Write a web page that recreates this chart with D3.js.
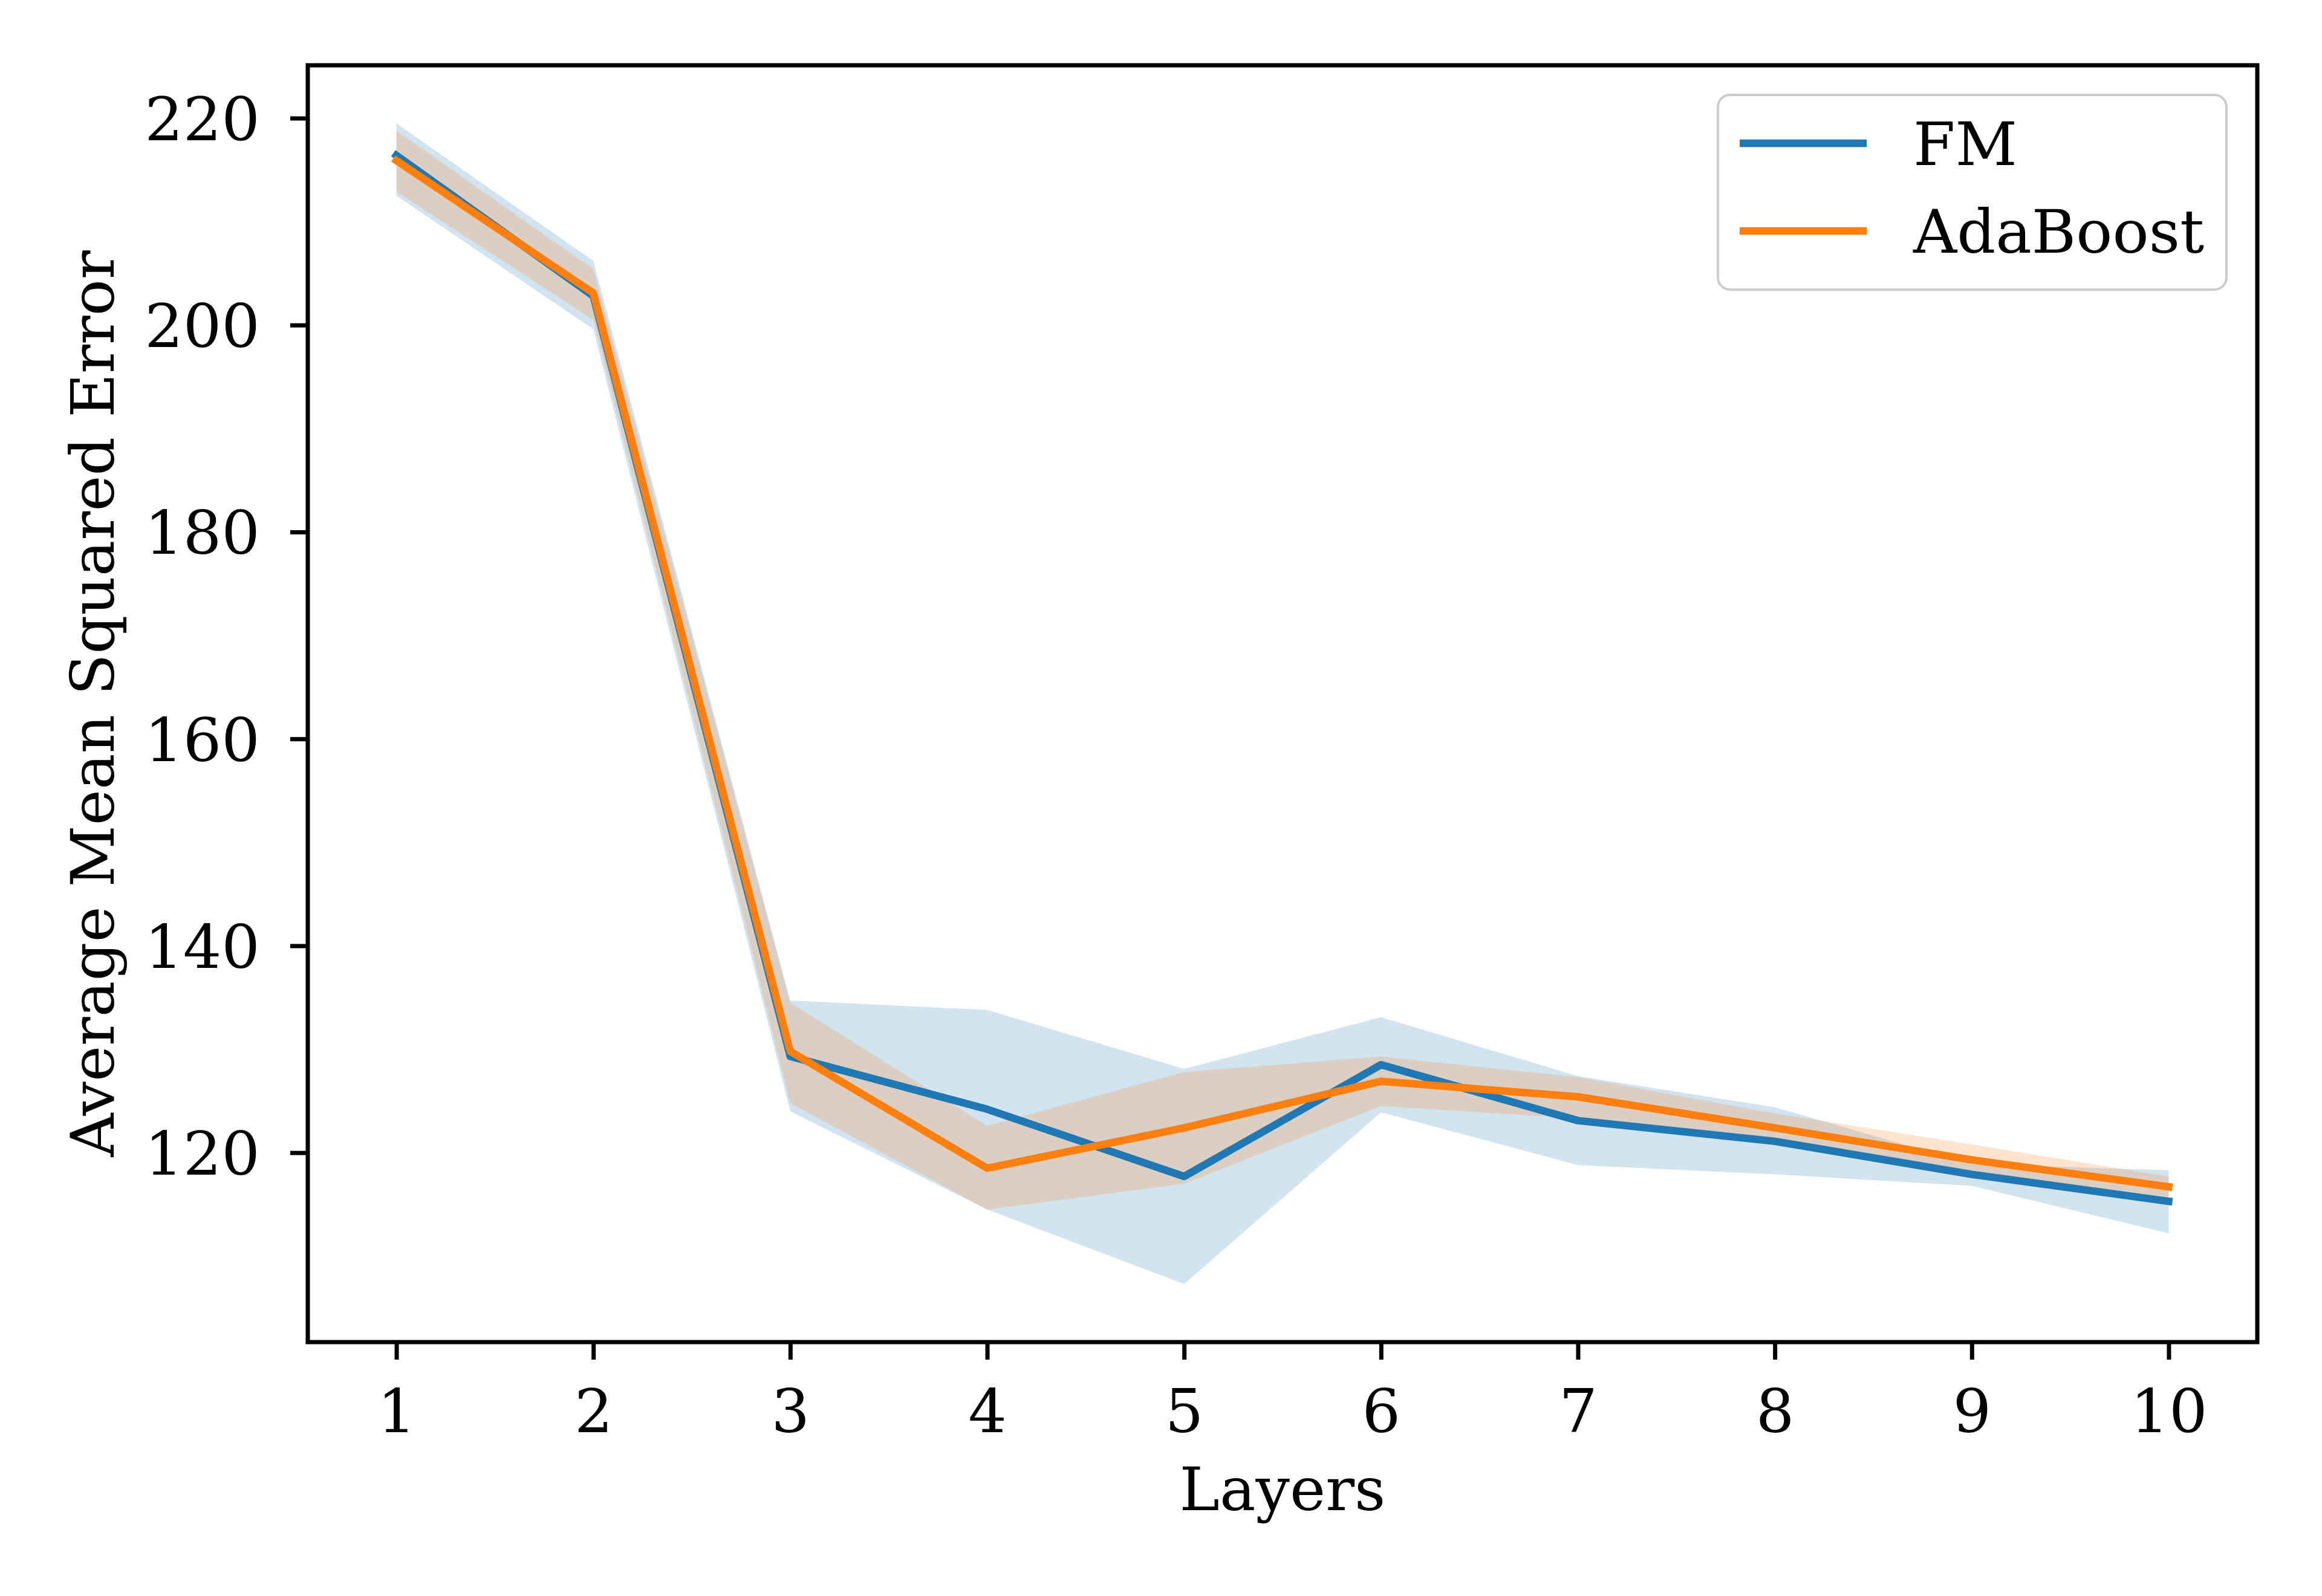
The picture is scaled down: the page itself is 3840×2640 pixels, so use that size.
<!DOCTYPE html>
<html>
<head>
<meta charset="utf-8">
<script src="https://cdn.jsdelivr.net/npm/d3@7"></script>
<style>
  body { margin: 0; background: #fff; }
  text { font-family: "DejaVu Serif", serif; fill: #000; }
</style>
</head>
<body>
<svg id="chart" width="3840" height="2640"></svg>
<script>
// Average MSE per number of layers, mean and band for each model

const layers = [1, 2, 3, 4, 5, 6, 7, 8, 9, 10];

const fmMean  = [216.4, 202.8, 129.3, 124.2, 117.7, 128.5, 123.1, 121.1, 117.9, 115.3];
const fmUpper = [219.5, 206.2, 134.7, 133.8, 128.1, 133.1, 127.4, 124.4, 118.9, 118.3];
const fmLower = [212.5, 199.6, 124.0, 114.5, 107.3, 123.9, 118.8, 117.9, 116.8, 112.2];

const adaMean  = [215.9, 203.1, 129.8, 118.5, 122.4, 126.9, 125.4, 122.4, 119.3, 116.7];
const adaUpper = [218.8, 205.4, 134.5, 122.6, 127.8, 129.3, 127.3, 123.8, 120.8, 117.7];
const adaLower = [212.9, 200.5, 124.8, 114.5, 117.0, 124.5, 123.3, 120.9, 118.1, 115.7];

const yTicks = [120, 140, 160, 180, 200, 220];
const seriesNames = ["FM", "AdaBoost"];
const seriesColors = ["#1f77b4", "#ff7f0e"];

const xLabel = "Layers";
const yLabel = "Average Mean Squared Error";

const svg = d3.select("#chart");
svg.append("rect").attr("width", 3840).attr("height", 2640).attr("fill", "#fff");

// axes box (in pixels)
const box = { left: 509, right: 3733, top: 108, bottom: 2220 };

// matplotlib style 5% margins around the data
const xExt = d3.extent(layers);
const xPad = (xExt[1] - xExt[0]) * 0.05;
const allY = fmUpper.concat(fmLower, adaUpper, adaLower, fmMean, adaMean);
const yExt = d3.extent(allY);
const yPad = (yExt[1] - yExt[0]) * 0.05;

const x = d3.scaleLinear()
    .domain([xExt[0] - xPad, xExt[1] + xPad])
    .range([box.left, box.right]);

const y = d3.scaleLinear()
    .domain([yExt[0] - yPad, yExt[1] + yPad])
    .range([box.bottom, box.top]);

const series = [
    { mean: fmMean, upper: fmUpper, lower: fmLower },
    { mean: adaMean, upper: adaUpper, lower: adaLower }
];

const area = d3.area()
    .x(d => x(d.x))
    .y0(d => y(d.lo))
    .y1(d => y(d.hi));

const line = d3.line()
    .x(d => x(d.x))
    .y(d => y(d.v));

const plot = svg.append("g");

// bands first, lines on top
series.forEach((s, i) => {
    plot.append("path")
        .datum(layers.map((l, k) => ({ x: l, lo: s.lower[k], hi: s.upper[k] })))
        .attr("d", area)
        .attr("fill", seriesColors[i])
        .attr("fill-opacity", 0.2);
});

series.forEach((s, i) => {
    plot.append("path")
        .datum(layers.map((l, k) => ({ x: l, v: s.mean[k] })))
        .attr("d", line)
        .attr("fill", "none")
        .attr("stroke", seriesColors[i])
        .attr("stroke-width", 12.5)
        .attr("stroke-linejoin", "round")
        .attr("stroke-linecap", "square");
});

// axes
const xAxis = svg.append("g")
    .attr("transform", `translate(0,${box.bottom})`)
    .call(d3.axisBottom(x).tickValues(layers).tickFormat(d3.format("d"))
        .tickSize(29).tickPadding(49));

const yAxis = svg.append("g")
    .attr("transform", `translate(${box.left},0)`)
    .call(d3.axisLeft(y).tickValues(yTicks).tickFormat(d3.format("d"))
        .tickSize(29).tickPadding(50));

[xAxis, yAxis].forEach(g => {
    g.select(".domain").remove();
    g.selectAll(".tick line").attr("stroke", "#000").attr("stroke-width", 7);
    g.selectAll(".tick text")
        .attr("font-family", "DejaVu Serif")
        .attr("font-size", 100)
        .attr("fill", "#000");
});
yAxis.selectAll(".tick text").attr("dy", "0.36em");

svg.append("rect")
    .attr("x", box.left).attr("y", box.top)
    .attr("width", box.right - box.left)
    .attr("height", box.bottom - box.top)
    .attr("fill", "none")
    .attr("stroke", "#000")
    .attr("stroke-width", 7);

// axis labels
svg.append("text")
    .attr("x", (box.left + box.right) / 2)
    .attr("y", 2498)
    .attr("text-anchor", "middle")
    .attr("font-size", 100)
    .text(xLabel);

svg.append("text")
    .attr("transform", `translate(188,${(box.top + box.bottom) / 2}) rotate(-90)`)
    .attr("text-anchor", "middle")
    .attr("font-size", 100)
    .text(yLabel);

// legend
const legend = svg.append("g");
legend.append("rect")
    .attr("x", 2841).attr("y", 157)
    .attr("width", 841).attr("height", 322)
    .attr("rx", 20).attr("ry", 20)
    .attr("fill", "#fff").attr("fill-opacity", 0.8)
    .attr("stroke", "#cccccc").attr("stroke-width", 4);

seriesNames.forEach((name, i) => {
    const cy = 237 + i * 145;
    legend.append("line")
        .attr("x1", 2877).attr("x2", 3087)
        .attr("y1", cy).attr("y2", cy)
        .attr("stroke", seriesColors[i])
        .attr("stroke-width", 12.5);
    legend.append("text")
        .attr("x", 3164)
        .attr("y", cy + 36)
        .attr("font-size", 100)
        .text(name);
});
</script>
</body>
</html>
